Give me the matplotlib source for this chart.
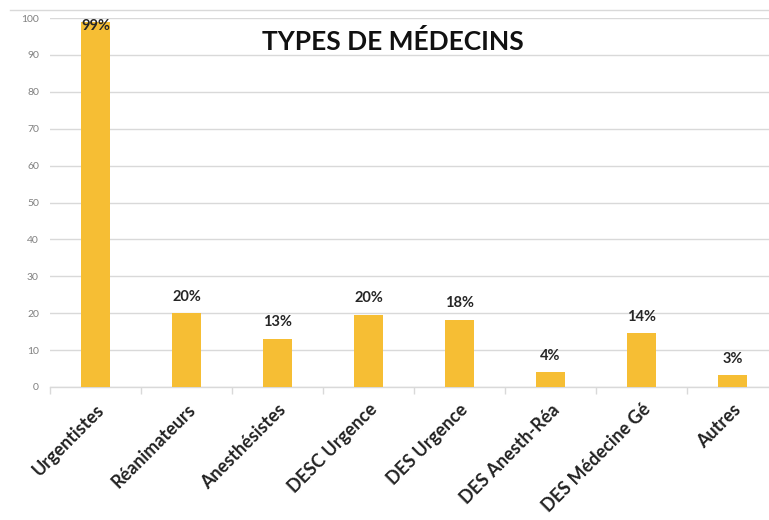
import matplotlib
matplotlib.use("Agg")
import matplotlib.pyplot as plt
from matplotlib.lines import Line2D

categories = ["Urgentistes", "Réanimateurs", "Anesthésistes", "DESC Urgence",
              "DES Urgence", "DES Anesth-Réa", "DES Médecine Gé", "Autres"]
values = [99, 20, 13, 19.5, 18.2, 4, 14.6, 3.2]
labels = ["99%", "20%", "13%", "20%", "18%", "4%", "14%", "3%"]
yticks = [0, 10, 20, 30, 40, 50, 60, 70, 80, 90, 100]
title = "TYPES DE MÉDECINS"

plt.rcParams['font.family'] = ['Lato', 'DejaVu Sans']

fig = plt.figure(figsize=(7.69, 5.2), dpi=100)
ax = fig.add_axes([50/769, 133/520, 728/769, 369/520])

x = list(range(len(categories)))
ax.bar(x, values, width=0.31, color="#F6BE34", zorder=3)

ax.set_xlim(-0.5, len(categories) - 0.5)
ax.set_ylim(0, 100)
ax.set_yticks(yticks)
ax.yaxis.grid(True, color="#d9d9d9", linewidth=1, zorder=0)
ax.tick_params(axis='y', length=0, labelsize=7.5, labelcolor="#808080", pad=8)

ax.set_xticks(x)
ax.set_xticklabels(categories, rotation=45, ha='right', rotation_mode='anchor',
                   fontsize=13, fontweight='bold', color="#222222")
ax.set_xticks([i - 0.5 for i in range(len(categories) + 1)], minor=True)
ax.tick_params(axis='x', which='major', length=0, pad=10)
ax.tick_params(axis='x', which='minor', length=5, color="#d9d9d9", width=1)

for s in ['top', 'right', 'left']:
    ax.spines[s].set_visible(False)
ax.spines['bottom'].set_color("#d9d9d9")
ax.spines['bottom'].set_linewidth(1)

for xi, v, lab in zip(x, values, labels):
    ax.text(xi, min(v + 4.5, 97.8), lab, ha='center', va='center',
            fontsize=10.5, fontweight='bold', color="#262626", zorder=4)

fig.text(393/769, 1 - 42/520, title, ha='center', va='center',
         fontsize=19, fontweight='bold', color="#111111")

fig.add_artist(Line2D([10/769, 1], [1 - 10/520, 1 - 10/520],
                      transform=fig.transFigure, color="#d9d9d9", linewidth=1))

fig.savefig("out.png", dpi=100)
